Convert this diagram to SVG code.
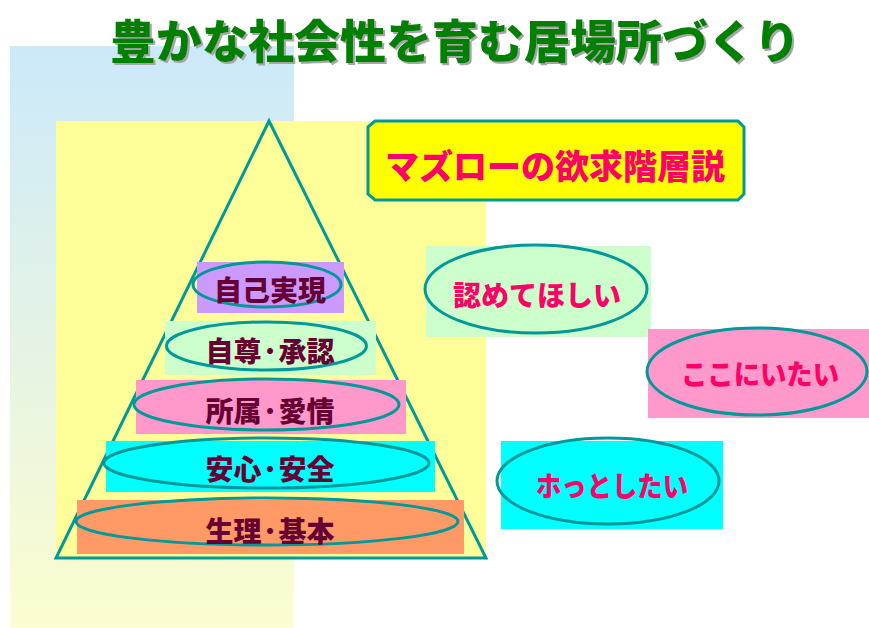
<svg xmlns="http://www.w3.org/2000/svg" width="869" height="628" viewBox="0 0 869 628">
<defs>
<linearGradient id="bg" x1="0" y1="0" x2="0" y2="1">
<stop offset="0" stop-color="#cce9fa"/>
<stop offset="1" stop-color="#fcfdd0"/>
</linearGradient>
<filter id="shadow" x="-5%" y="-20%" width="110%" height="140%">
<feDropShadow dx="2" dy="2" stdDeviation="0.4" flood-color="#a6a6a6" flood-opacity="1"/>
</filter>
</defs>
<style>
text{font-family:"Noto Sans CJK JP","Noto Sans CJK SC",sans-serif;font-weight:900;text-anchor:middle}
.ell{fill:none;stroke:#009999;stroke-width:3}
.lvl{fill:#660033;font-size:28px}
.want{fill:#ff0066;font-size:28px}
.title{font-size:46px}
</style>
<rect x="10" y="46" width="284" height="582" fill="url(#bg)"/>
<rect x="56" y="121" width="430" height="438" fill="#ffff99"/>
<g id="title">
<text class="title" x="455" y="58" fill="#008000" filter="url(#shadow)">豊かな社会性を育む居場所づくり</text>
</g>
<g id="pyramid">
<polygon points="269,121 56,558 486,558" fill="none" stroke="#009999" stroke-width="3"/>
</g>
<g id="maslow">
<path d="M375,121 H738 L744,127 V194 L738,200 H375 L368,194 V127 Z" fill="#ffff00" stroke="#009999" stroke-width="3"/>
<text x="555" y="179" fill="#ff0066" font-size="34">マズローの欲求階層説</text>
</g>
<g id="lvl5">
<rect x="197" y="262" width="147" height="51" fill="#cc99ff"/>
<ellipse class="ell" cx="267" cy="284.5" rx="74" ry="22.5"/>
<text class="lvl" x="270" y="301">自己実現</text>
</g>
<g id="lvl4">
<rect x="165" y="321" width="211" height="54" fill="#ccffcc"/>
<ellipse class="ell" cx="266.5" cy="346" rx="100" ry="24"/>
<text class="lvl" x="270" y="362">自尊·承認</text>
</g>
<g id="lvl3">
<rect x="136" y="380" width="270" height="54" fill="#ff99cc"/>
<ellipse class="ell" cx="266.5" cy="404.5" rx="132.5" ry="25.5"/>
<text class="lvl" x="270" y="422">所属·愛情</text>
</g>
<g id="lvl2">
<rect x="106" y="441" width="329" height="51" fill="#00ffff"/>
<ellipse class="ell" cx="266.5" cy="463" rx="162.5" ry="25"/>
<text class="lvl" x="270" y="480">安心·安全</text>
</g>
<g id="lvl1">
<rect x="77" y="500" width="387" height="54" fill="#ff9966"/>
<ellipse class="ell" cx="267" cy="521.5" rx="191" ry="23.5"/>
<text class="lvl" x="270" y="542">生理·基本</text>
</g>
<g id="want1">
<rect x="426" y="246" width="225" height="91" fill="#ccffcc"/>
<ellipse class="ell" cx="536" cy="289" rx="111" ry="44"/>
<text class="want" x="537" y="306">認めてほしい</text>
</g>
<g id="want2">
<rect x="648" y="329" width="221" height="89" fill="#ff99cc"/>
<ellipse class="ell" cx="757" cy="371.5" rx="110" ry="43.5"/>
<text class="want" x="760" y="385" textLength="158" lengthAdjust="spacingAndGlyphs">ここにいたい</text>
</g>
<g id="want3">
<rect x="501" y="441" width="222" height="88" fill="#00ffff"/>
<ellipse class="ell" cx="608" cy="481" rx="111" ry="43"/>
<text class="want" x="612" y="497" textLength="152" lengthAdjust="spacingAndGlyphs">ホっとしたい</text>
</g>
<g id="connectors"/>
</svg>
